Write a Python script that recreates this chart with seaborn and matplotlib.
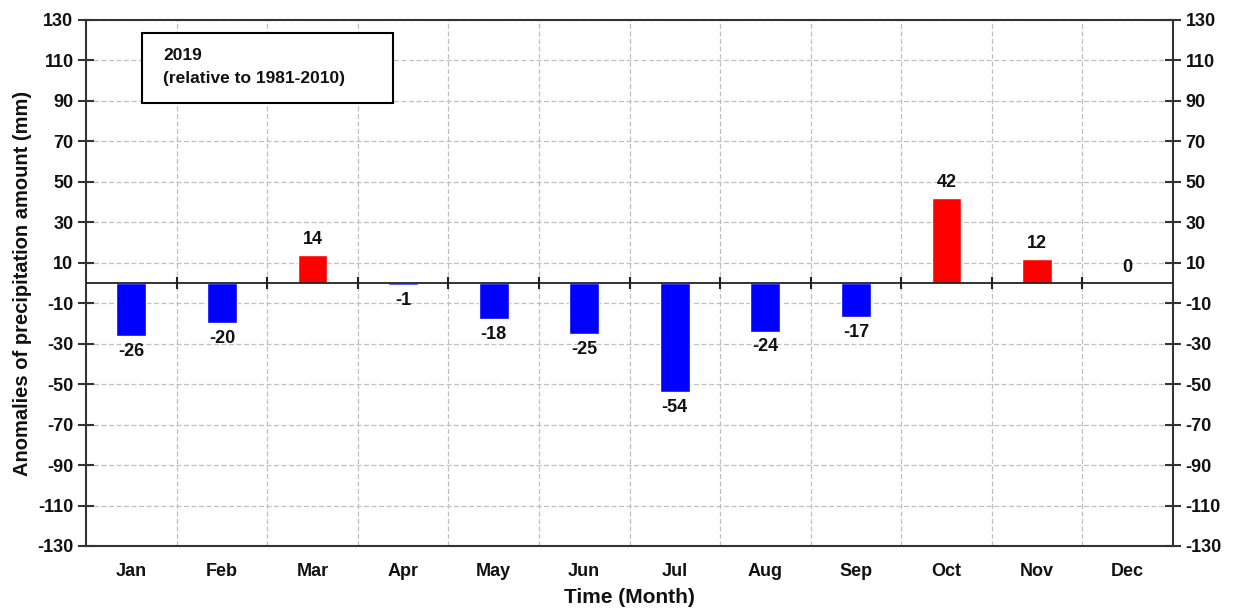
import numpy as np
import pandas as pd
import matplotlib
matplotlib.use('Agg')
import matplotlib.pyplot as plt
from matplotlib.patches import Rectangle
import seaborn as sns

sns.set_style('white')
plt.rcParams['font.family'] = ['Liberation Sans', 'DejaVu Sans']
plt.rcParams['font.weight'] = 'bold'
plt.rcParams['axes.unicode_minus'] = False
plt.rcParams['text.color'] = '#111111'
plt.rcParams['axes.labelcolor'] = '#111111'
plt.rcParams['xtick.labelcolor'] = '#111111'
plt.rcParams['ytick.labelcolor'] = '#111111'

# Data
months = ['Jan', 'Feb', 'Mar', 'Apr', 'May', 'Jun', 'Jul', 'Aug', 'Sep', 'Oct', 'Nov', 'Dec']
anomalies = [-26, -20, 14, -1, -18, -25, -54, -24, -17, 42, 12, 0]
yticks = list(range(-130, 131, 20))

df = pd.DataFrame({'month': months, 'value': anomalies})
df['sign'] = np.where(df['value'] > 0, 'pos', 'neg')

fig = plt.figure(figsize=(12.37, 6.08), dpi=100)
ax = fig.add_axes([86/1237, 1 - 546/608, (1173-86)/1237, (546-20)/608])

sns.barplot(data=df, x='month', y='value', hue='sign', palette={'pos': 'red', 'neg': 'blue'},
            dodge=False, width=0.33, legend=False, ax=ax, saturation=1)

for c in ax.containers:
    ax.bar_label(c, fmt='%d', padding=5, fontsize=13, fontweight='bold', color='#111111')

ax.set_xlim(-0.5, 11.5)
ax.set_ylim(-130, 130)
ax.set_yticks(yticks)

# grid lines: horizontal at ticks, vertical between months
bounds = np.arange(0.5, 11.5, 1)
ax.set_xticks(bounds, minor=True)
ax.grid(axis='y', which='major', color='#c0c0c0', linestyle=(0, (4, 2)), linewidth=0.9)
ax.grid(axis='x', which='minor', color='#c0c0c0', linestyle=(0, (4, 2)), linewidth=0.9)
ax.grid(axis='x', which='major', visible=False)
ax.set_axisbelow(True)

# zero line with small marks at month boundaries
ax.axhline(0, color='#222222', linewidth=1.3, zorder=3)
ax.plot(bounds, np.zeros(len(bounds)), linestyle='none', marker='|', markersize=9,
        markeredgewidth=1.5, color='#222222', zorder=3)

for s in ax.spines.values():
    s.set_visible(True)
    s.set_color('#333333')
    s.set_linewidth(1.5)

ax.tick_params(axis='y', which='major', direction='inout', length=12, width=1.5,
               left=True, right=True, labelleft=True, labelright=True,
               labelsize=13, color='#333333', pad=3)
ax.tick_params(axis='x', which='both', length=0, labelsize=13, pad=12)
for lbl in ax.get_xticklabels() + ax.get_yticklabels():
    lbl.set_fontweight('bold')

ax.set_xlabel('Time (Month)', fontsize=15, fontweight='bold', labelpad=6)
ax.set_ylabel('Anomalies of precipitation amount (mm)', fontsize=14.5, fontweight='bold', labelpad=4)

# annotation box
ax.add_patch(Rectangle((0.0515, 0.842), 0.231, 0.133, transform=ax.transAxes,
                       facecolor='white', edgecolor='black', linewidth=1.5, zorder=4))
ax.text(0.0708, 0.933, '2019', transform=ax.transAxes, fontsize=12.5,
        fontweight='bold', va='center', ha='left', zorder=5)
ax.text(0.0708, 0.889, '(relative to 1981-2010)', transform=ax.transAxes, fontsize=12.5,
        fontweight='bold', va='center', ha='left', zorder=5)

fig.savefig('out.png', dpi=100)
